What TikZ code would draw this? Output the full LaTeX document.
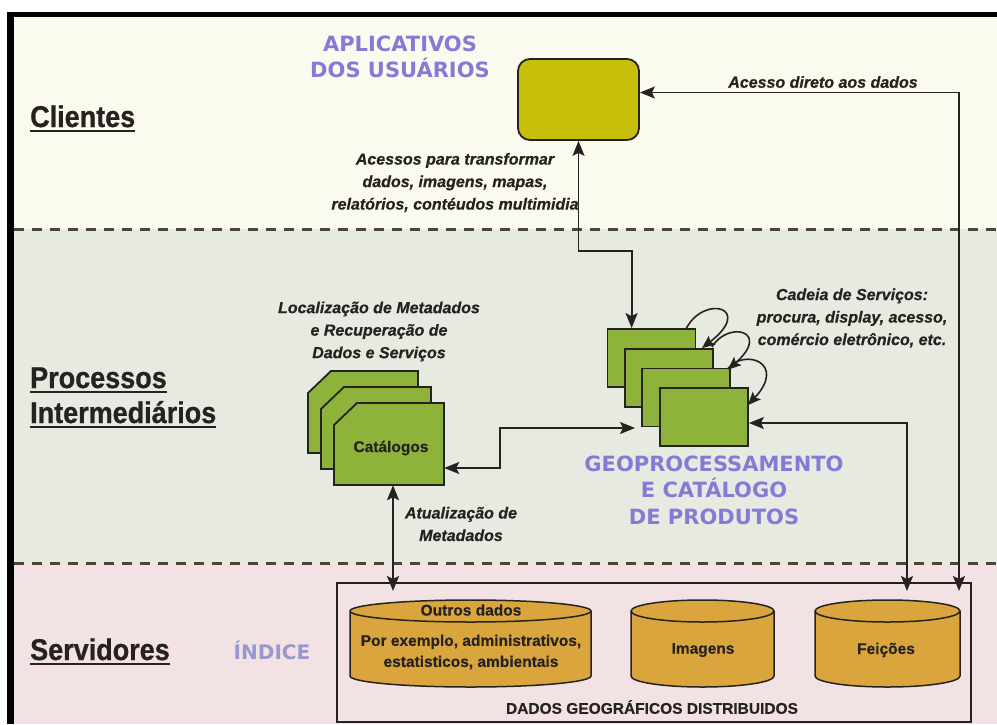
\documentclass[tikz,border=0pt]{standalone}
\usepackage{fontspec}
\setmainfont{Liberation Sans}
\newfontfamily\sidefont{Liberation Sans Bold}[FakeStretch=0.9, FakeBold=0.8]
\newfontfamily\notefont{Liberation Sans Bold Italic}[FakeBold=0.6]
\newfontfamily\boldfont{Liberation Sans Bold}[FakeBold=0.4]
\newfontfamily\titfont{DejaVu Sans Bold}
\usetikzlibrary{arrows.meta,calc}
\definecolor{bgtop}{HTML}{FAFAEF}
\definecolor{bgmid}{HTML}{E7EAE1}
\definecolor{bgbot}{HTML}{F3E2E4}
\definecolor{lav}{HTML}{857BD6}
\definecolor{lavlight}{HTML}{9898CE}
\definecolor{greenbox}{HTML}{8DB33B}
\definecolor{yelbox}{HTML}{C8BF0B}
\definecolor{cyl}{HTML}{D9A53C}
\definecolor{ink}{HTML}{262220}
\definecolor{dashc}{HTML}{4F4534}
\tikzset{
  conn/.style={draw=ink, line width=1.8pt},
  loopline/.style={draw=ink, line width=1.6pt, -{Stealth[length=13pt,width=11pt,inset=2.5pt]}},
  georect/.style={draw=ink, fill=greenbox, line width=1.8pt, minimum width=88pt, minimum height=58pt, inner sep=0pt},
  catshape/.style={draw=ink, fill=greenbox, line width=1.8pt},
  catbox/.style={minimum width=110pt, minimum height=82pt, inner sep=0pt},
  appbox/.style={draw=ink, fill=yelbox, rounded corners=12pt, line width=1.8pt, minimum width=121pt, minimum height=81pt, inner sep=0pt},
  cylshape/.style={draw=ink, fill=cyl, line width=1.5pt},
  sidelabel/.style={font=\sidefont\fontsize{30}{34}\selectfont, text=ink, inner sep=0pt},
  uline/.style={draw=ink, line width=2.5pt},
  note/.style={font=\notefont\fontsize{16}{22.5}\selectfont, align=center, text=ink, inner sep=0pt},
  titletxt/.style={font=\titfont\fontsize{21}{26.5}\selectfont, text=lav, align=center, inner sep=0pt},
  boldtxt/.style={font=\boldfont\fontsize{15.5}{21}\selectfont, text=ink, align=center, inner sep=0pt},
  sepline/.style={draw=dashc, line width=3pt, dash pattern=on 10pt off 8pt},
}
\begin{document}
\begin{tikzpicture}[x=1pt,y=-1pt,>={Stealth[length=15pt,width=12pt,inset=3pt]}]
\useasboundingbox (0,0) rectangle (997,724);
% backgrounds
\fill[white] (0,0) rectangle (997,724);
\fill[bgtop] (14,17) rectangle (997,229);
\fill[bgmid] (14,229) rectangle (997,563);
\fill[bgbot] (14,563) rectangle (997,724);
\fill[black] (7,12) rectangle (997,17);
\fill[black] (7,12) rectangle (14,724);
% separators
\draw[sepline] (14,229) -- (997,229);
\draw[sepline] (14,563) -- (997,563);

% side labels
\node[sidelabel, anchor=base west] (cli) at (30,127) {Clientes};
\node[sidelabel, anchor=base west] (proc) at (30,388) {Processos};
\node[sidelabel, anchor=base west] (inter) at (30,423) {Intermediários};
\node[sidelabel, anchor=base west] (serv) at (30,660) {Servidores};
\foreach \n in {cli,proc,inter,serv}
  \draw[uline] ($(\n.base west)+(0,4)$) -- ($(\n.base east)+(0,4)$);

% titles
\node[titletxt] (apl) at (400,57) {APLICATIVOS\\DOS USUÁRIOS};
\node[titletxt] (geo) at (714,490) {GEOPROCESSAMENTO\\E CATÁLOGO\\DE PRODUTOS};
\node[titletxt, text=lavlight, font=\titfont\fontsize{20}{24}\selectfont] (indice) at (272,650) {ÍNDICE};

% user application box
\node[appbox] (app) at (578.5,99.5) {};

% catalog stack
\foreach \x/\y in {308/371, 321/387, 334/403}
  \filldraw[catshape] (\x,\y+22) -- (\x+23,\y) -- (\x+110,\y) -- (\x+110,\y+82) -- (\x,\y+82) -- cycle;
\node[catbox] (cat3) at (389,444) {};
\node[boldtxt] (catlbl) at (391,448) {Catálogos};

% geoprocessing stack
\node[georect] (g1) at (651.5,358) {};
\node[georect] (g2) at (669,378) {};
\node[georect] (g3) at (686,397.5) {};
\node[georect] (g4) at (704,417) {};
\draw[loopline] ($(g1.north east)+(-10,0)$) .. controls (705,294) and (754,308) .. ($(g2.north east)+(-12,0)$);
\draw[loopline] ($(g2.north east)+(-2,-1)$) .. controls (728,320) and (772,331) .. ($(g3.north east)+(-3,2)$);
\draw[loopline] ($(g3.north east)+(-3,1)$) .. controls (745,348) and (787,363) .. ($(g4.north east)+(-1,18)$);

% bottom data box
\node[draw=ink, line width=1.8pt, minimum width=634pt, minimum height=139pt, inner sep=0pt] (dados) at (654,652.5) {};
\foreach \x/\r/\n in {470.5/120.5/c1, 702.5/71.5/c2, 887.5/72.5/c3}{
  \filldraw[cylshape] (\x-\r,611) -- (\x-\r,676) arc[start angle=180,end angle=0,x radius=\r,y radius=11]
     -- (\x+\r,611) arc[start angle=0,end angle=-180,x radius=\r,y radius=11] -- cycle;
  \draw[ink, line width=1.5pt] (\x+\r,611) arc[start angle=0,end angle=180,x radius=\r,y radius=11];
  \coordinate (\n) at (\x,643);
}
\node[boldtxt] (outros) at (471,610) {Outros dados};
\node[boldtxt] (porex) at (471,652) {Por exemplo, administrativos,\\estatisticos, ambientais};
\node[boldtxt] (imag) at (703,650) {Imagens};
\node[boldtxt] (feic) at (886,650) {Feições};
\node[boldtxt] (dgd) at (652,707) {DADOS GEOGRÁFICOS DISTRIBUIDOS};

% connector end points
\coordinate (tdir) at (959,591);
\coordinate (tfei) at (907,591);
\coordinate (tcat) at (393,591);
\coordinate (tgeo) at (635,428);

% connectors
\draw[conn,<->] (app.south) |- ($(g1.north west)+(25,-77)$) -- ($(g1.north west)+(25,0)$);
\draw[conn,<->] ($(app.east)+(0,-7)$) -| (tdir);
\draw[conn,<->] ($(g4.east)+(0,6)$) -| (tfei);
\draw[conn,<->] ($(cat3.east)+(0,24)$) -- ++(56,0) |- (tgeo);
\draw[conn,<->] ($(cat3.south)+(4,0)$) -- (tcat);

% notes
\node[note] (nacc) at (455,182.5) {Acessos para transformar\\dados, imagens, mapas,\\relatórios, contéudos multimidia};
\node[note] (ndir) at (823,82) {Acesso direto aos dados};
\node[note] (nloc) at (379,331.5) {Localização de Metadados\\e Recuperação de\\Dados e Serviços};
\node[note] (ncad) at (852,318) {Cadeia de Serviços:\\procura, display, acesso,\\comércio eletrônico, etc.};
\node[note] (natu) at (461,524) {Atualização de\\Metadados};
\end{tikzpicture}
\end{document}
